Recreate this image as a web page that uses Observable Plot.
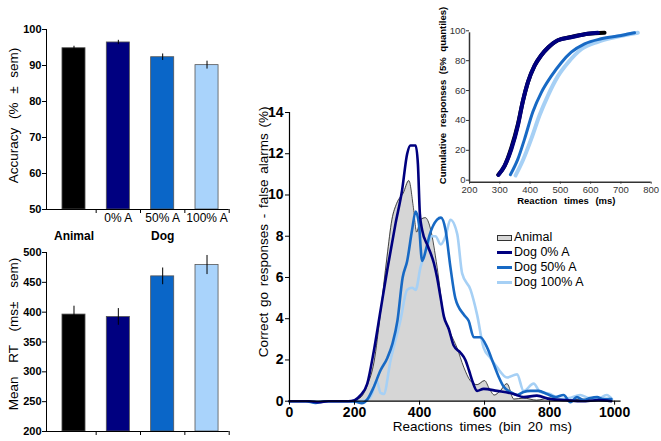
<!DOCTYPE html>
<html><head><meta charset="utf-8">
<script src="https://cdn.jsdelivr.net/npm/d3@7"></script>
<script src="https://cdn.jsdelivr.net/npm/@observablehq/plot@0.6"></script>
<style>
body{margin:0;background:#fff;font-family:"Liberation Sans",Arial,sans-serif;}
#wrap{position:relative;width:661px;height:441px;overflow:hidden;background:#fff;}
.pane{position:absolute;}
.pane svg{overflow:visible;}
#legend{position:absolute;left:497px;top:230px;font-size:12.5px;color:#000;}
#legend .row{height:15px;line-height:15px;display:flex;align-items:center;}
#legend .sw{width:15px;margin-right:2px;box-sizing:border-box;}
</style></head><body><div id="wrap"></div>
<script>
// ---------- data ----------
const conditions = ["Animal", "Dog 0% A", "Dog 50% A", "Dog 100% A"];
const barTickLabels = ["", "0% A", "50% A", "100% A"];
const groupLabels = ["Animal", "Dog"];
const groupAt = [0, 2];
const accuracy = [94.8, 96.4, 92.3, 90.1];
const accuracySem = [0.55, 0.6, 0.9, 1.1];
const meanRT = [396, 392, 460, 479];
const meanRTSem = [14, 14, 14, 16];
const accTicks = [50, 60, 70, 80, 90, 100];
const rtTicks = [200, 250, 300, 350, 400, 450, 500];
const barColors = ["#000000", "#000080", "#0a66c8", "#a9d3fb"];
const lineColors = ["#1a1a1a", "#00007f", "#1769c4", "#a6d0f5"];

// RT distributions: [ms, % correct go - false alarms]
const animalDist = [[0,0],[100,0],[180,0],[200,0.05],[220,0.2],[240,0.8],[260,1.9],[280,4.3],[300,7.0],[315,8.8],[330,9.6],[350,10.1],[367,10.7],[381,9.4],[391,8.2],[403,8.8],[418,8.9],[433,8.4],[454,6.5],[474,4.2],[495,3.3],[515,2.6],[536,1.65],[556,1.0],[577,0.8],[600,1.0],[615,0.6],[630,0.3],[648,0.5],[669,0.85],[690,0.1],[720,0.15],[760,0.05],[800,0.15],[850,0.05],[900,0.1],[950,0.05],[990,0]];
const dog0Dist = [[0,0],[60,0],[90,-0.05],[120,0],[180,0],[200,0.05],[218,0.28],[239,0.84],[259,2.4],[280,4.4],[301,6.4],[326,8.6],[346,10.2],[362,12.0],[372,12.4],[388,12.4],[395,11.5],[401,9.1],[408,8.3],[426,7.5],[444,6.7],[454,6.0],[465,5.0],[475,4.1],[490,3.5],[505,2.7],[526,2.35],[541,2.0],[552,1.5],[562,1.0],[577,0.5],[597,0.6],[638,0.5],[690,0.35],[720,0.2],[761,0.27],[802,0.1],[850,0.05],[900,0],[950,0.05],[990,0]];
const dog50Dist = [[0,0],[50,0],[80,-0.08],[110,0],[180,0],[205,-0.03],[222,-0.1],[240,0.1],[259,0.68],[280,1.5],[301,2.1],[317,2.8],[332,3.9],[348,6.0],[362,6.8],[377,8.3],[388,9.2],[398,8.6],[408,6.8],[422,7.5],[430,8.0],[454,8.8],[466,8.9],[480,8.3],[495,6.5],[510,5.0],[536,4.2],[551,3.9],[567,3.1],[587,3.1],[608,2.6],[628,1.8],[643,1.2],[659,0.7],[679,0.45],[700,0.3],[720,0.45],[741,0.5],[766,0.5],[792,0.35],[818,0.2],[843,0.3],[864,-0.05],[884,0.2],[905,0.05],[925,0.15],[946,0.2],[966,0.1],[990,0.1]];
const dog100Dist = [[0,0],[100,0],[200,0],[240,0.05],[255,0.4],[268,1.0],[280,0.4],[290,0.35],[311,2.0],[341,3.9],[362,5.4],[377,5.5],[388,5.4],[403,6.5],[424,7.5],[437,8.0],[449,8.0],[465,7.6],[480,8.0],[495,8.8],[516,8.1],[531,6.2],[557,5.4],[577,4.2],[597,2.6],[618,2.1],[638,1.65],[669,1.15],[700,1.3],[720,0.5],[751,0.85],[771,0.45],[802,0.35],[833,0.1],[860,0.15],[894,0.3],[920,0.15],[946,0.1],[976,0.3],[992,0.1]];
const distTicksX = [0, 200, 400, 600, 800, 1000];
const distTicksY = [0, 2, 4, 6, 8, 10, 12, 14];

// cumulative (5% quantiles): [ms, %]
const animalCdf = [[295,5],[316,11],[338,23],[360,39],[376,54],[393,67],[415,78],[437,85],[459,90],[492,95],[536,97.2],[591,99.3],[646,100]];
const dog0Cdf = [[296,4.9],[316,11],[338,22],[360,38],[376,54],[393,67],[415,78],[437,85],[459,90],[492,95],[536,97],[591,99.3],[624,100]];
const dog50Cdf = [[335,5],[360,15.6],[382,29],[409,47],[437,60],[470,71],[503,80],[536,87],[580,92.6],[635,96],[701,98.2],[745,100]];
const dog100Cdf = [[352,4.5],[376,14.5],[404,29],[431,44.6],[459,58],[492,71],[525,80],[569,89],[624,94],[679,97],[756,100]];
const cdfTicksX = [200, 300, 400, 500, 600, 700, 800];
const cdfTicksY = [0, 20, 40, 60, 80, 100];

// ---------- rendering ----------
const FONT = "Liberation Sans, Arial, sans-serif";
const fmt = d => String(d);
const wrap = document.getElementById("wrap");
function place(node, left, top) {
  const d = document.createElement("div");
  d.className = "pane"; d.style.left = left + "px"; d.style.top = top + "px";
  d.appendChild(node); wrap.appendChild(d); return node;
}
function spaceWords(svg, map) {
  d3.select(svg).selectAll("text").each(function() {
    const t = this.textContent;
    if (map[t] != null) this.style.wordSpacing = map[t] + "px";
  });
}
const idx = d3.range(conditions.length);

function barPanel(values, sem, ticks, dom, opts) {
  const unit = (opts.height - opts.mt - opts.mb) / (dom[1] - dom[0]);
  const sepLen = 4 / unit;
  const marks = [
    Plot.rectY(idx, {x1: i => i - 0.26, x2: i => i + 0.26, y1: dom[0], y2: i => values[i], fill: i => barColors[i], stroke: "#555", strokeWidth: 0.8}),
    Plot.ruleX(idx, {x: i => i, y1: i => values[i] - sem[i], y2: i => values[i] + sem[i], stroke: "#000", strokeWidth: 1}),
    Plot.ruleY([dom[0]], {stroke: "#000", strokeWidth: 1}),
    Plot.ruleX([-0.62], {stroke: "#000", strokeWidth: 1}),
    Plot.ruleX([0.5, 1.5, 2.5, 3.5], {y1: dom[0], y2: dom[0] - sepLen, stroke: "#000"}),
    Plot.axisY({ticks, tickSize: 4, tickPadding: 1, fontSize: 11, fontWeight: "bold", label: null, tickFormat: fmt}),
    Plot.text([opts.label], {frameAnchor: "left", text: d => d, textAnchor: "middle", lineAnchor: "middle", rotate: -90, dx: -33, dy: opts.labelDy, fontSize: 13.5})
  ];
  if (opts.cats) {
    marks.push(Plot.text(idx, {x: i => i, y: dom[0], text: i => barTickLabels[i], dy: 9, fontSize: 12}));
    marks.push(Plot.text(d3.range(groupLabels.length), {x: i => groupAt[i], y: dom[0], text: i => groupLabels[i], dy: 27, fontSize: 12, fontWeight: "bold"}));
  }
  return Plot.plot({
    width: 232, height: opts.height, marginLeft: 46, marginRight: 3.3, marginTop: opts.mt, marginBottom: opts.mb,
    style: {background: "transparent", fontFamily: FONT, color: "#000"},
    x: {domain: [-0.62, 3.5], axis: null},
    y: {domain: dom, axis: null},
    color: {type: "identity"},
    marks
  });
}

const accLabel = "Accuracy (% ± sem)";
const rtLabel = "Mean RT (ms± sem)";
const acc = place(barPanel(accuracy, accuracySem, accTicks, [50, 100], {height: 240, mt: 29, mb: 31, label: accLabel, labelDy: -4, cats: true}), 0, 0);
spaceWords(acc, {[accLabel]: 5});
const rt = place(barPanel(meanRT, meanRTSem, rtTicks, [200, 500], {height: 201, mt: 12, mb: 10, label: rtLabel, labelDy: -8, cats: false}), 0, 240);
spaceWords(rt, {[rtLabel]: 10});

// main distribution plot
const xLabel = "Reactions times (bin 20 ms)";
const yLabel = "Correct go responses - false alarms (%)";
const line = (data, i, w) => Plot.line(data, {x: d => d[0], y: d => d[1], stroke: lineColors[i], strokeWidth: w, curve: "monotone-x"});
const main = place(Plot.plot({
  width: 421, height: 341, marginLeft: 49, marginRight: 40.4, marginTop: 12, marginBottom: 40.3,
  style: {background: "transparent", fontFamily: FONT, color: "#000"},
  x: {domain: [0, 1020], axis: null},
  y: {domain: [0, 14], axis: null},
  marks: [
    Plot.areaY(animalDist, {x: d => d[0], y: d => Math.max(0, d[1]), fill: "#d6d6d6", curve: "monotone-x"}),
    line(animalDist, 0, 0.8),
    line(dog100Dist, 3, 2.6),
    line(dog50Dist, 2, 2.6),
    line(dog0Dist, 1, 2.6),
    Plot.ruleY([0], {stroke: "#000", strokeWidth: 1.2}),
    Plot.ruleX([0], {stroke: "#000", strokeWidth: 1.2}),
    Plot.axisX({ticks: distTicksX, tickSize: 4, tickPadding: 2, fontSize: 14, fontWeight: "bold", label: null, tickFormat: fmt}),
    Plot.axisY({ticks: distTicksY, tickSize: 4, tickPadding: 2, fontSize: 14, fontWeight: "bold", label: null, tickFormat: fmt}),
    Plot.text([xLabel], {frameAnchor: "bottom", text: d => d, textAnchor: "middle", dx: 27, dy: 30, fontSize: 13.5}),
    Plot.text([yLabel], {frameAnchor: "left", text: d => d, textAnchor: "middle", lineAnchor: "middle", rotate: -90, dx: -26, dy: -25, fontSize: 13.5})
  ]
}), 240, 100);
spaceWords(main, {[xLabel]: 3, [yLabel]: 2});

// inset cumulative plot
const cxLabel = "Reaction times (ms)";
const cyLabel = "Cumulative responses (5% quantiles)";
const cdfLine = (data, color, w) => Plot.line(data, {x: d => d[0], y: d => d[1], stroke: color, strokeWidth: w, curve: "monotone-x"});
const inset = place(Plot.plot({
  width: 231, height: 200, marginLeft: 39, marginRight: 10.3, marginTop: 12.3, marginBottom: 38.3,
  style: {background: "transparent", fontFamily: FONT, color: "#333"},
  x: {domain: [200, 800], axis: null},
  y: {domain: [0, 100], axis: null},
  marks: [
    cdfLine(animalCdf, "#000", 4),
    cdfLine(dog0Cdf, lineColors[1], 4),
    cdfLine(dog100Cdf, lineColors[3], 4),
    cdfLine(dog50Cdf, lineColors[2], 3),
    Plot.ruleY([0], {stroke: "#333", strokeWidth: 1.5}),
    Plot.ruleX([200], {stroke: "#333", strokeWidth: 1.5}),
    Plot.axisX({ticks: cdfTicksX, tickSize: 2, tickPadding: 2.5, fontSize: 9.5, label: null, tickFormat: fmt}),
    Plot.axisY({ticks: cdfTicksY, tickSize: 3, tickPadding: 1, fontSize: 9.5, label: null, tickFormat: fmt, dy: -2}),
    Plot.text([cxLabel], {frameAnchor: "bottom", text: d => d, textAnchor: "middle", dx: 6, dy: 22, fontSize: 9.5, fontWeight: "bold", fill: "#000"}),
    Plot.text([cyLabel], {frameAnchor: "left", text: d => d, textAnchor: "middle", lineAnchor: "middle", rotate: -90, dx: -27, dy: -12, fontSize: 9.5, fontWeight: "bold", fill: "#000"})
  ]
}), 430, 20);
spaceWords(inset, {[cxLabel]: 4, [cyLabel]: 3});

// legend
const legend = document.createElement("div");
legend.id = "legend";
conditions.forEach((c, i) => {
  const row = document.createElement("div"); row.className = "row";
  const sw = document.createElement("div"); sw.className = "sw";
  if (i === 0) { sw.style.height = "6px"; sw.style.background = "#d6d6d6"; sw.style.border = "1.5px solid #333"; }
  else { sw.style.height = "3px"; sw.style.background = lineColors[i]; }
  const lab = document.createElement("span"); lab.textContent = c;
  row.appendChild(sw); row.appendChild(lab); legend.appendChild(row);
});
wrap.appendChild(legend);
</script></body></html>
